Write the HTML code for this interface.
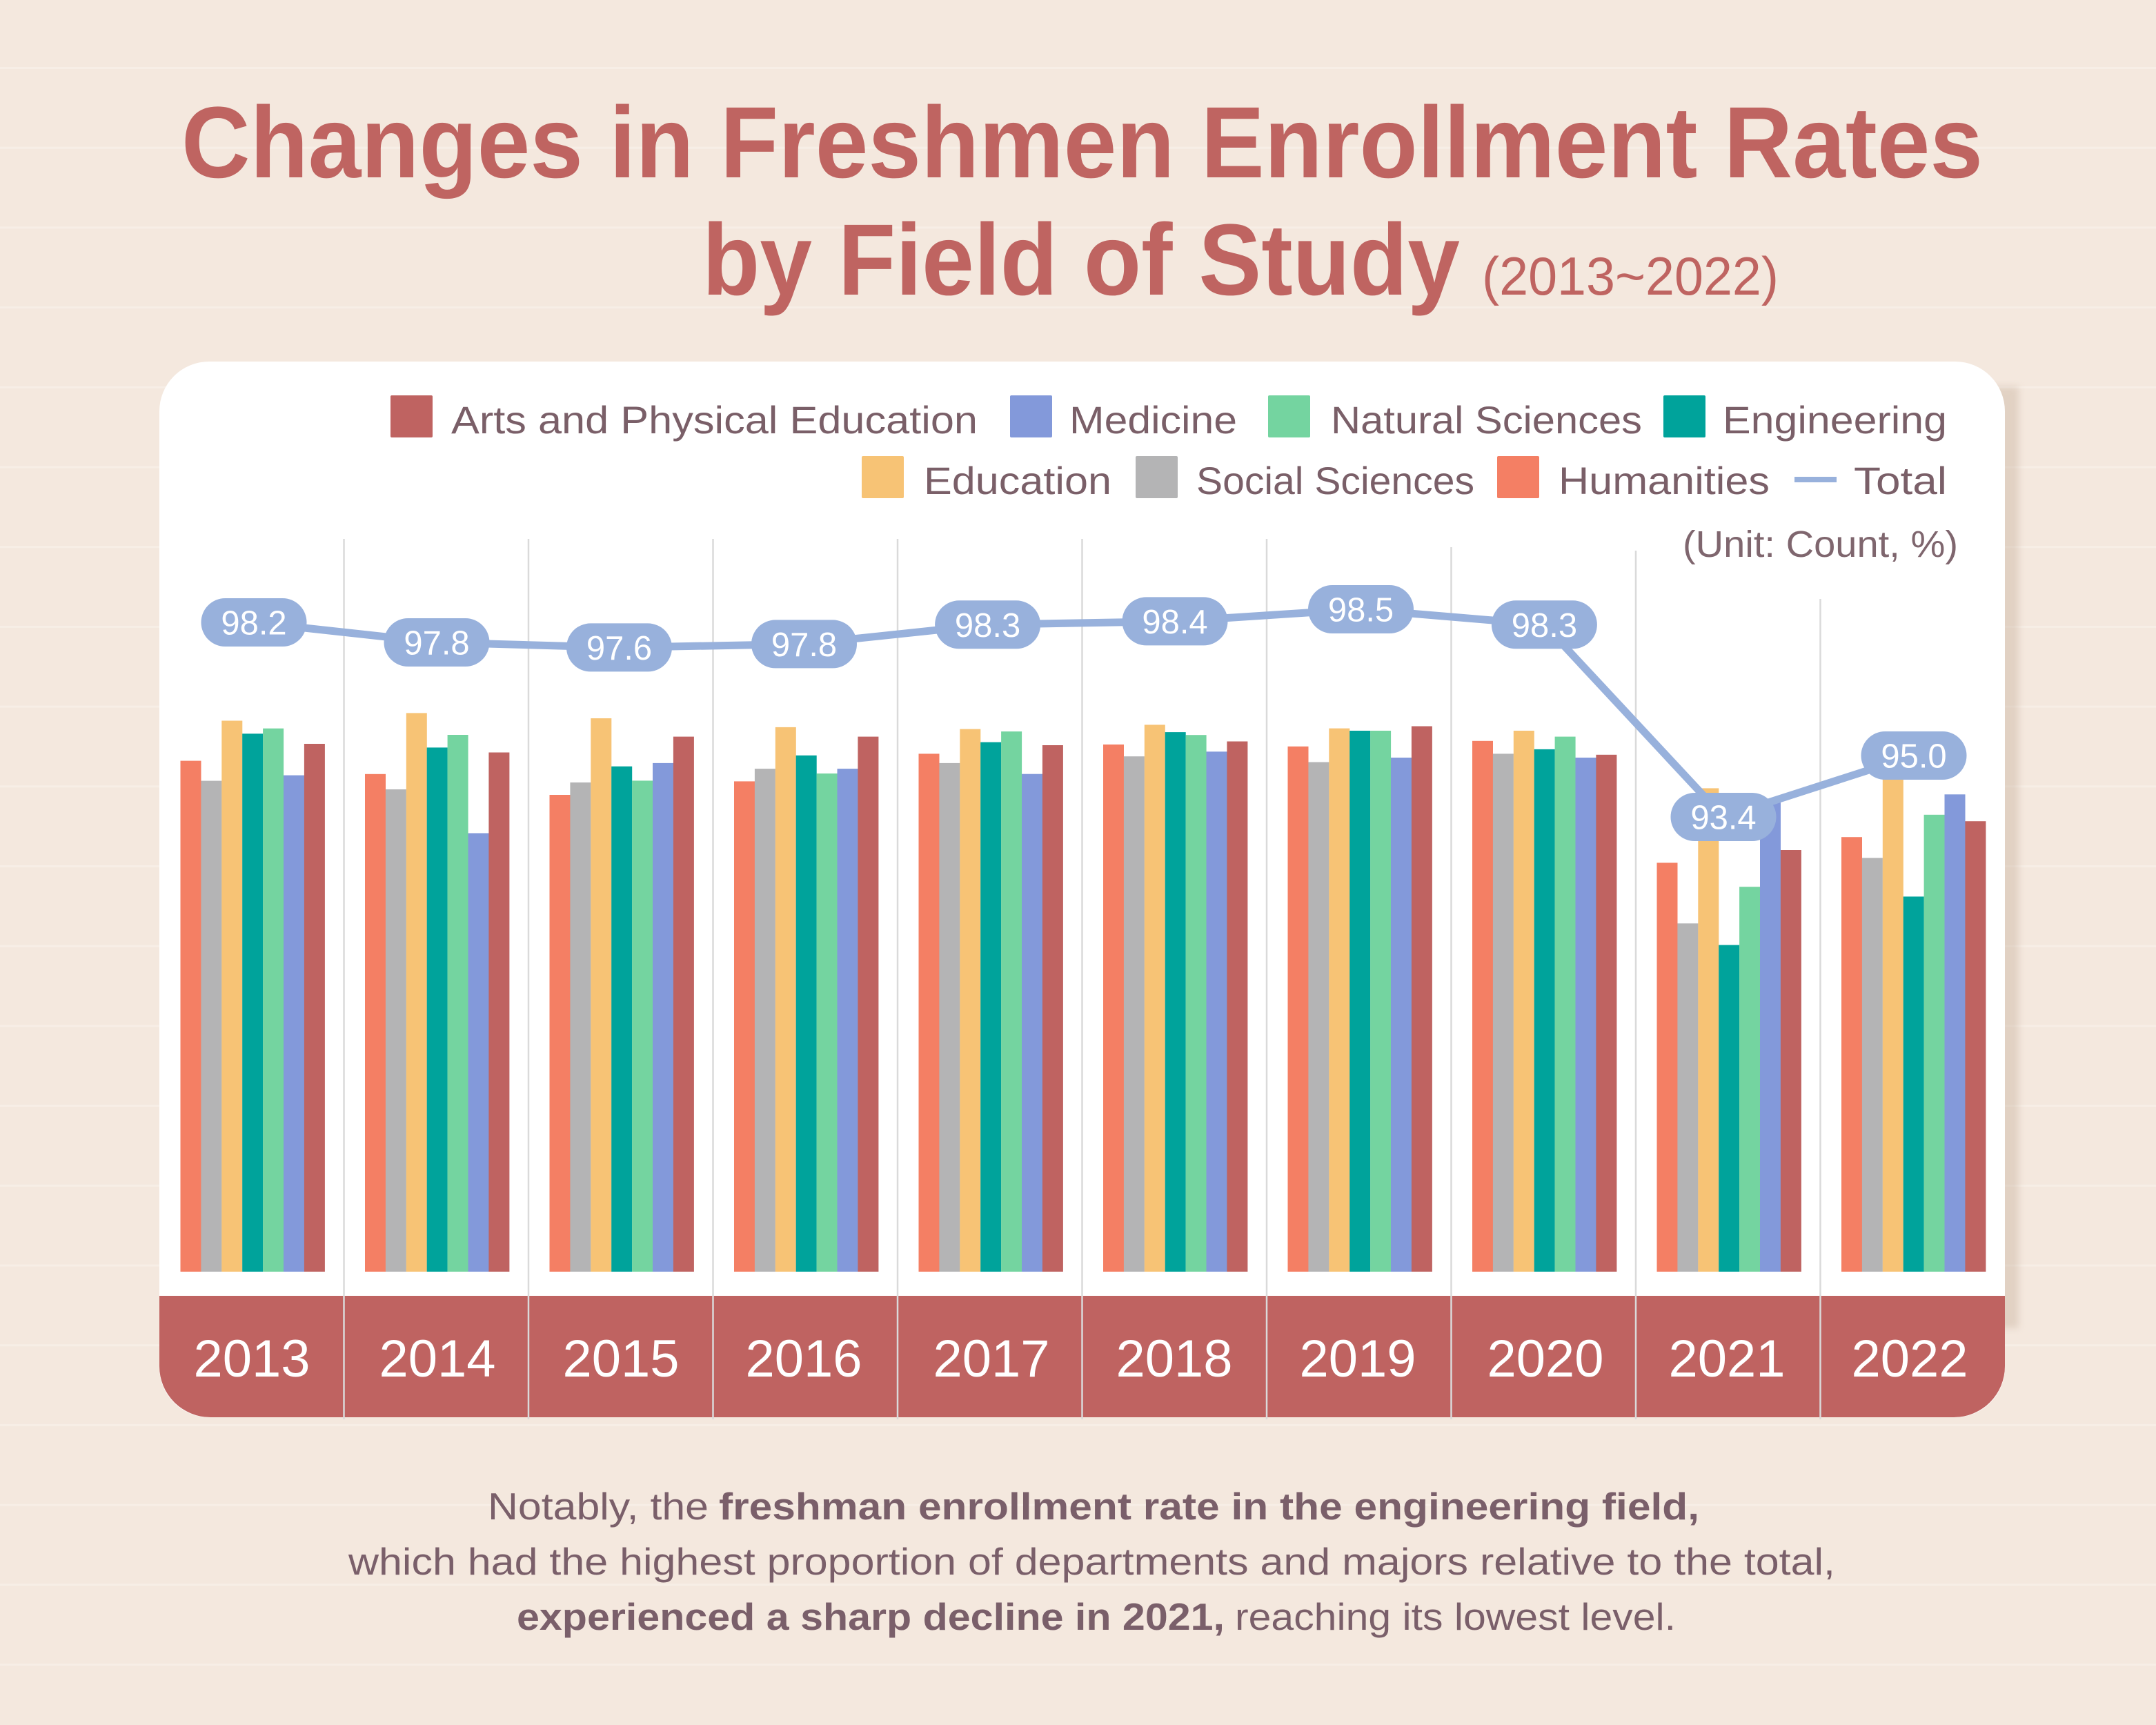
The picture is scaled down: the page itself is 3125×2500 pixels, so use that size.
<!DOCTYPE html>
<html>
<head>
<meta charset="utf-8">
<style>
html,body{margin:0;padding:0;background:#f4e8de;}
body{width:3125px;height:2500px;overflow:hidden;}
svg{display:block;}
.h{fill:#f47f64}.s{fill:#b4b4b5}.e{fill:#f7c375}.g{fill:#00a39b}.n{fill:#74d4a0}.m{fill:#8399da}.a{fill:#bf6361}
.lg{font-family:"Liberation Sans",sans-serif;font-size:56px;fill:#7a5f68;}
.pl{font-family:"Liberation Sans",sans-serif;font-size:49px;fill:#ffffff;text-anchor:middle;}
.yr{font-family:"Liberation Sans",sans-serif;font-size:76px;fill:#ffffff;text-anchor:middle;}
.bt{font-family:"Liberation Sans",sans-serif;font-size:55px;fill:#7a5f6a;}
.bb{font-weight:bold;}
</style>
</head>
<body>
<svg width="3125" height="2500" viewBox="0 0 3125 2500" xmlns="http://www.w3.org/2000/svg">
<defs>
<pattern id="lines" x="0" y="97" width="3125" height="115.7" patternUnits="userSpaceOnUse">
<rect x="0" y="0" width="3125" height="3" fill="#f7eee6"/>
</pattern>
<filter id="blur" x="-50%" y="-10%" width="200%" height="120%"><feGaussianBlur stdDeviation="5"/></filter>
</defs>
<rect x="0" y="0" width="3125" height="2500" fill="#f4e8de"/>
<rect x="0" y="0" width="3125" height="2500" fill="url(#lines)"/>

<!-- Title -->
<text x="263" y="257" font-family="Liberation Sans, sans-serif" font-weight="bold" font-size="147" fill="#bf6461" textLength="2611" lengthAdjust="spacingAndGlyphs">Changes in Freshmen Enrollment Rates</text>
<text x="1018" y="427" font-family="Liberation Sans, sans-serif" font-weight="bold" font-size="147" fill="#bf6461" textLength="1098" lengthAdjust="spacingAndGlyphs">by Field of Study</text>
<text x="2148" y="427" font-family="Liberation Sans, sans-serif" font-size="78" fill="#bf6461" textLength="430" lengthAdjust="spacingAndGlyphs">(2013~2022)</text>

<!-- card shadow -->
<rect x="2880" y="560" width="46" height="1365" fill="#bfa792" opacity="0.35" filter="url(#blur)"/>
<!-- card -->
<rect x="231" y="524" width="2675" height="1530" rx="72" ry="72" fill="#ffffff"/>
<!-- band -->
<path d="M231 1878 H2906 V1980 A74 74 0 0 1 2832 2054 H305 A74 74 0 0 1 231 1980 Z" fill="#bf6361"/>

<!-- legend -->
<rect x="566" y="573" width="61" height="61" rx="2" class="a"/>
<text x="654" y="628" class="lg" textLength="763" lengthAdjust="spacingAndGlyphs">Arts and Physical Education</text>
<rect x="1464" y="573" width="61" height="61" rx="2" class="m"/>
<text x="1550" y="628" class="lg" textLength="243" lengthAdjust="spacingAndGlyphs">Medicine</text>
<rect x="1838" y="573" width="61" height="61" rx="2" class="n"/>
<text x="1929" y="628" class="lg" textLength="451" lengthAdjust="spacingAndGlyphs">Natural Sciences</text>
<rect x="2411" y="573" width="61" height="61" rx="2" class="g"/>
<text x="2497" y="628" class="lg" textLength="325" lengthAdjust="spacingAndGlyphs">Engineering</text>

<rect x="1249" y="661" width="61" height="61" rx="2" class="e"/>
<text x="1339" y="716" class="lg" textLength="272" lengthAdjust="spacingAndGlyphs">Education</text>
<rect x="1646" y="661" width="61" height="61" rx="2" class="s"/>
<text x="1734" y="716" class="lg" textLength="403" lengthAdjust="spacingAndGlyphs">Social Sciences</text>
<rect x="2170" y="661" width="61" height="61" rx="2" class="h"/>
<text x="2259" y="716" class="lg" textLength="306" lengthAdjust="spacingAndGlyphs">Humanities</text>
<rect x="2601" y="691" width="61" height="8" fill="#98b1dc"/>
<text x="2687" y="716" class="lg" textLength="135" lengthAdjust="spacingAndGlyphs">Total</text>

<text x="2439" y="807" font-family="Liberation Sans, sans-serif" font-size="54" fill="#7f666e" textLength="399" lengthAdjust="spacingAndGlyphs">(Unit: Count, %)</text>

<!-- gridlines -->
<g stroke="#dadada" stroke-width="2.5">
<line x1="498.5" y1="781" x2="498.5" y2="2057"/>
<line x1="766" y1="781" x2="766" y2="2057"/>
<line x1="1033.5" y1="781" x2="1033.5" y2="2057"/>
<line x1="1301" y1="781" x2="1301" y2="2057"/>
<line x1="1568.5" y1="781" x2="1568.5" y2="2057"/>
<line x1="1836" y1="781" x2="1836" y2="2057"/>
<line x1="2103.5" y1="793" x2="2103.5" y2="2057"/>
<line x1="2371" y1="798" x2="2371" y2="2057"/>
<line x1="2638.5" y1="868" x2="2638.5" y2="2057"/>
</g>

<!-- bars -->
<g>
<rect class="h" x="261.5" y="1102.6" width="30" height="740.4"/>
<rect class="s" x="291.4" y="1131.6" width="30" height="711.4"/>
<rect class="e" x="321.3" y="1044.5" width="30" height="798.5"/>
<rect class="g" x="351.2" y="1063.3" width="30" height="779.7"/>
<rect class="n" x="381.1" y="1055.7" width="30" height="787.3"/>
<rect class="m" x="411" y="1123.6" width="30" height="719.4"/>
<rect class="a" x="440.9" y="1078" width="30" height="765"/>

<rect class="h" x="529" y="1121.8" width="30" height="721.2"/>
<rect class="s" x="558.9" y="1144" width="30" height="699"/>
<rect class="e" x="588.8" y="1033.4" width="30" height="809.6"/>
<rect class="g" x="618.7" y="1083.4" width="30" height="759.6"/>
<rect class="n" x="648.6" y="1065" width="30" height="778"/>
<rect class="m" x="678.5" y="1207.5" width="30" height="635.5"/>
<rect class="a" x="708.4" y="1090.5" width="30" height="752.5"/>

<rect class="h" x="796.5" y="1152" width="30" height="691"/>
<rect class="s" x="826.4" y="1134" width="30" height="709"/>
<rect class="e" x="856.3" y="1041" width="30" height="802"/>
<rect class="g" x="886.2" y="1110.7" width="30" height="732.3"/>
<rect class="n" x="916.1" y="1131.4" width="30" height="711.6"/>
<rect class="m" x="946" y="1105.9" width="30" height="737.1"/>
<rect class="a" x="975.9" y="1067.6" width="30" height="775.4"/>

<rect class="h" x="1064" y="1132.4" width="30" height="710.6"/>
<rect class="s" x="1093.9" y="1114.1" width="30" height="728.9"/>
<rect class="e" x="1123.8" y="1053.9" width="30" height="789.1"/>
<rect class="g" x="1153.7" y="1094.8" width="30" height="748.2"/>
<rect class="n" x="1183.6" y="1121" width="30" height="722"/>
<rect class="m" x="1213.5" y="1114.1" width="30" height="728.9"/>
<rect class="a" x="1243.4" y="1067.6" width="30" height="775.4"/>

<rect class="h" x="1331.5" y="1092.4" width="30" height="750.6"/>
<rect class="s" x="1361.4" y="1105.9" width="30" height="737.1"/>
<rect class="e" x="1391.3" y="1056.6" width="30" height="786.4"/>
<rect class="g" x="1421.2" y="1075.6" width="30" height="767.4"/>
<rect class="n" x="1451.1" y="1060.1" width="30" height="782.9"/>
<rect class="m" x="1481" y="1121.7" width="30" height="721.3"/>
<rect class="a" x="1510.9" y="1080" width="30" height="763"/>

<rect class="h" x="1599" y="1079" width="30" height="764"/>
<rect class="s" x="1628.9" y="1096.2" width="30" height="746.8"/>
<rect class="e" x="1658.8" y="1050.4" width="30" height="792.6"/>
<rect class="g" x="1688.7" y="1061.1" width="30" height="781.9"/>
<rect class="n" x="1718.6" y="1065.2" width="30" height="777.8"/>
<rect class="m" x="1748.5" y="1089.3" width="30" height="753.7"/>
<rect class="a" x="1778.4" y="1074.5" width="30" height="768.5"/>

<rect class="h" x="1866.5" y="1081.8" width="30" height="761.2"/>
<rect class="s" x="1896.4" y="1104.5" width="30" height="738.5"/>
<rect class="e" x="1926.3" y="1055.6" width="30" height="787.4"/>
<rect class="g" x="1956.2" y="1059" width="30" height="784"/>
<rect class="n" x="1986.1" y="1059" width="30" height="784"/>
<rect class="m" x="2016" y="1098" width="30" height="745"/>
<rect class="a" x="2045.9" y="1052.5" width="30" height="790.5"/>

<rect class="h" x="2134" y="1073.8" width="30" height="769.2"/>
<rect class="s" x="2163.9" y="1092.4" width="30" height="750.6"/>
<rect class="e" x="2193.8" y="1059" width="30" height="784"/>
<rect class="g" x="2223.7" y="1085.9" width="30" height="757.1"/>
<rect class="n" x="2253.6" y="1067.6" width="30" height="775.4"/>
<rect class="m" x="2283.5" y="1098" width="30" height="745"/>
<rect class="a" x="2313.4" y="1093.8" width="30" height="749.2"/>

<rect class="h" x="2401.5" y="1250.4" width="30" height="592.6"/>
<rect class="s" x="2431.4" y="1338.3" width="30" height="504.7"/>
<rect class="e" x="2461.3" y="1142.4" width="30" height="700.6"/>
<rect class="g" x="2491.2" y="1369.6" width="30" height="473.4"/>
<rect class="n" x="2521.1" y="1285.2" width="30" height="557.8"/>
<rect class="m" x="2551" y="1163" width="30" height="680"/>
<rect class="a" x="2580.9" y="1232" width="30" height="611"/>

<rect class="h" x="2669" y="1213.2" width="30" height="629.8"/>
<rect class="s" x="2698.9" y="1243.3" width="30" height="599.7"/>
<rect class="e" x="2728.8" y="1110" width="30" height="733"/>
<rect class="g" x="2758.7" y="1299.4" width="30" height="543.6"/>
<rect class="n" x="2788.6" y="1180.8" width="30" height="662.2"/>
<rect class="m" x="2818.5" y="1151.3" width="30" height="691.7"/>
<rect class="a" x="2848.4" y="1190.2" width="30" height="652.8"/>
</g>

<!-- total line -->
<polyline points="368,902 633,931 897.5,938.4 1165.5,933.4 1431.6,905.3 1703,900.4 1972.5,883 2238.4,905.3 2498,1184 2774,1095" fill="none" stroke="#98b1dc" stroke-width="11" stroke-linejoin="round"/>

<!-- pills -->
<g fill="#98b1dc">
<rect x="291.5" y="867" width="153" height="70" rx="35"/>
<rect x="556.5" y="896" width="153" height="70" rx="35"/>
<rect x="821" y="903.4" width="153" height="70" rx="35"/>
<rect x="1089" y="898.4" width="153" height="70" rx="35"/>
<rect x="1355.1" y="870.3" width="153" height="70" rx="35"/>
<rect x="1626.5" y="865.4" width="153" height="70" rx="35"/>
<rect x="1896" y="848" width="153" height="70" rx="35"/>
<rect x="2161.9" y="870.3" width="153" height="70" rx="35"/>
<rect x="2421.5" y="1149" width="153" height="70" rx="35"/>
<rect x="2697.5" y="1060" width="153" height="70" rx="35"/>
</g>
<text class="pl" x="368" y="919.5">98.2</text>
<text class="pl" x="633" y="948.5">97.8</text>
<text class="pl" x="897.5" y="955.9">97.6</text>
<text class="pl" x="1165.5" y="950.9">97.8</text>
<text class="pl" x="1431.6" y="922.8">98.3</text>
<text class="pl" x="1703" y="917.9">98.4</text>
<text class="pl" x="1972.5" y="900.5">98.5</text>
<text class="pl" x="2238.4" y="922.8">98.3</text>
<text class="pl" x="2498" y="1201.5">93.4</text>
<text class="pl" x="2774" y="1112.5">95.0</text>

<!-- year labels -->
<text class="yr" x="365" y="1995">2013</text>
<text class="yr" x="634" y="1995">2014</text>
<text class="yr" x="900" y="1995">2015</text>
<text class="yr" x="1165" y="1995">2016</text>
<text class="yr" x="1437" y="1995">2017</text>
<text class="yr" x="1702" y="1995">2018</text>
<text class="yr" x="1968" y="1995">2019</text>
<text class="yr" x="2240" y="1995">2020</text>
<text class="yr" x="2503" y="1995">2021</text>
<text class="yr" x="2768" y="1995">2022</text>

<!-- bottom text -->
<text class="bt" x="707" y="2202" textLength="320" lengthAdjust="spacingAndGlyphs">Notably, the</text>
<text class="bt bb" x="1042" y="2202" textLength="1421" lengthAdjust="spacingAndGlyphs">freshman enrollment rate in the engineering field,</text>
<text class="bt" x="505" y="2282" textLength="2155" lengthAdjust="spacingAndGlyphs">which had the highest proportion of departments and majors relative to the total,</text>
<text class="bt bb" x="749" y="2362" textLength="1026" lengthAdjust="spacingAndGlyphs">experienced a sharp decline in 2021,</text>
<text class="bt" x="1790" y="2362" textLength="639" lengthAdjust="spacingAndGlyphs">reaching its lowest level.</text>
</svg>
</body>
</html>
